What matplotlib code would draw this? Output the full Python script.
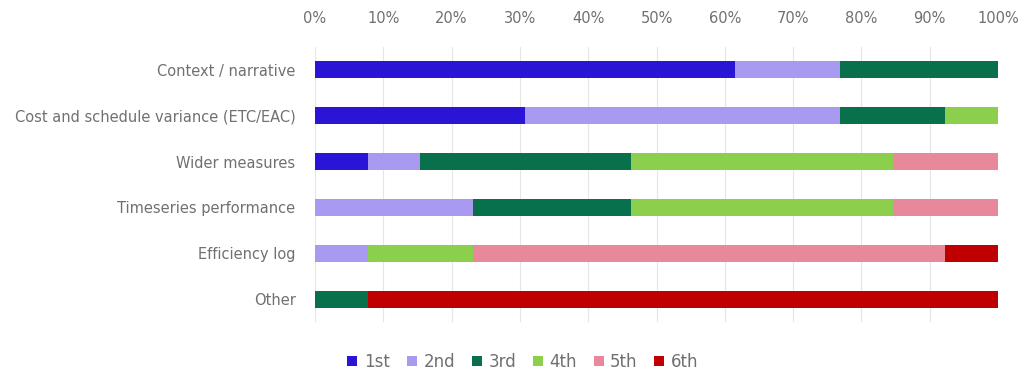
import matplotlib
matplotlib.use("Agg")
import matplotlib.pyplot as plt
from matplotlib.ticker import PercentFormatter

categories = ["Context / narrative",
              "Cost and schedule variance (ETC/EAC)",
              "Wider measures",
              "Timeseries performance",
              "Efficiency log",
              "Other"]
ranks = ["1st", "2nd", "3rd", "4th", "5th", "6th"]

# share of responses (%) for each rank, per category
first = [61.5, 30.8, 7.7, 0.0, 0.0, 0.0]
second = [15.4, 46.1, 7.7, 23.1, 7.7, 0.0]
third = [23.1, 15.4, 30.8, 23.1, 0.0, 7.7]
fourth = [0.0, 7.7, 38.4, 38.4, 15.4, 0.0]
fifth = [0.0, 0.0, 15.4, 15.4, 69.2, 0.0]
sixth = [0.0, 0.0, 0.0, 0.0, 7.7, 92.3]

series = [first, second, third, fourth, fifth, sixth]
colors = ["#2a14d6", "#a89af0", "#08704a", "#8ccf4d", "#e8889b", "#c00000"]
txt = "#707070"

fig = plt.figure(figsize=(10.21, 3.77), dpi=100)
ax = fig.add_axes([315/1021, 1-322/377, (998-315)/1021, 275/377])

y = range(len(categories))
left = [0.0]*len(categories)
for vals, col, lab in zip(series, colors, ranks):
    ax.barh(y, vals, left=left, height=0.37, color=col, label=lab, zorder=3)
    left = [a+b for a, b in zip(left, vals)]

ax.set_xlim(0, 100)
ax.set_ylim(5.5, -0.5)
ax.set_yticks(list(y))
ax.set_yticklabels(categories)
ax.set_xticks(range(0, 101, 10))
ax.xaxis.set_major_formatter(PercentFormatter(decimals=0))
ax.xaxis.tick_top()
ax.tick_params(length=0, colors=txt)
ax.tick_params(axis="x", labelsize=10.5, pad=15)
ax.tick_params(axis="y", labelsize=10.5, pad=14)
ax.grid(axis="x", color="#e6e6e6", lw=0.8, zorder=0)
for s in ax.spines.values():
    s.set_visible(False)

fig.legend(loc="center", bbox_to_anchor=(523/1021, 1-362/377), ncol=6,
           frameon=False, fontsize=12, labelcolor=txt, handlelength=0.6,
           handleheight=0.6, handletextpad=0.4, columnspacing=1.0)

fig.savefig("out.png", dpi=100)
